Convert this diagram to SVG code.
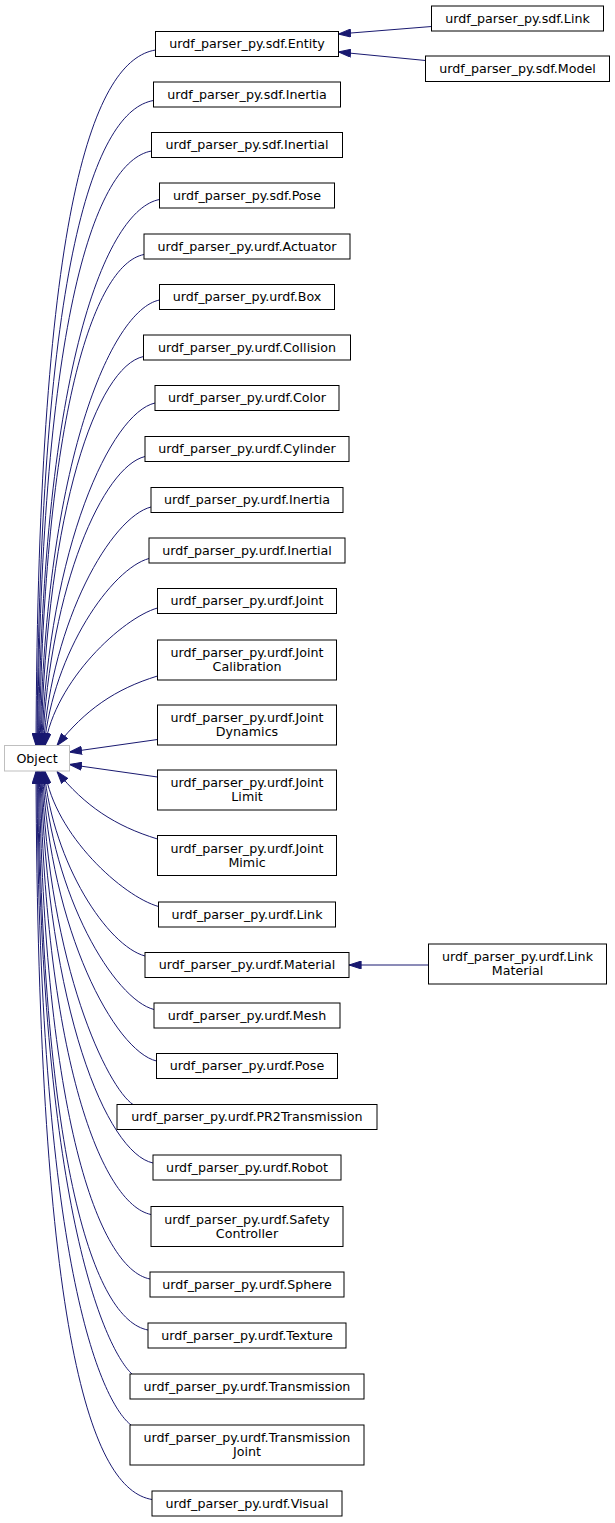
<svg xmlns="http://www.w3.org/2000/svg" width="615" height="1523" viewBox="0 0 615 1523">
<style>
.n rect{fill:#fff;stroke:#000;stroke-width:1}
.o rect{fill:#fff;stroke:#bfbfbf;stroke-width:1}
text{font-family:"DejaVu Sans","Liberation Sans",sans-serif;font-size:12.67px;fill:#000;text-anchor:middle}
.e path{fill:none;stroke:#191970;stroke-width:1;marker-end:url(#arr)}
</style>
<defs>
<marker id="arr" viewBox="0 0 12.6 8.8" refX="12.6" refY="4.4" markerWidth="12.6" markerHeight="8.8" orient="auto" markerUnits="userSpaceOnUse">
<path d="M0.5,0.5 L12.6,4.4 L0.5,8.3 z" fill="#191970" stroke="#191970" stroke-width="1"/>
</marker>
</defs>
<rect width="615" height="1523" fill="#fff"/>
<g id="edges" class="e">
<path d="M155.5,50 C95.5,60 38,198 36,745.5"/>
<path d="M153.5,100.5 C95.8,110.5 39.7,257.3 37,745.5"/>
<path d="M151.5,151 C96,161 41,313 37.6,745.5"/>
<path d="M159.5,199.5 C106.3,209.5 42.6,366 38.4,745.5"/>
<path d="M144,254.5 C93.1,264.5 44.2,416 39.3,745.5"/>
<path d="M159.5,300 C110.8,310 45.7,463 40.1,745.5"/>
<path d="M143.5,356.5 C97.1,366.5 47.3,507 40.9,745.5"/>
<path d="M155,403 C110.9,413 48.8,547.5 41.7,745.5"/>
<path d="M145,456.5 C103.2,466.5 50.3,585 42.5,745.5"/>
<path d="M151,507 C111.4,517 51.9,620 43.4,745.5"/>
<path d="M149,558.5 C111.7,568.5 53.5,652 44.2,745.5"/>
<path d="M157.5,608 C122.5,618 55,680.5 45,745.5"/>
<path d="M157.5,676 C115,689 85,710 57,745.5"/>
<path d="M157.5,739.5 L69.5,752"/>
<path d="M157.5,777 L69.5,764.5"/>
<path d="M157.5,839 C115,826 85,806 57,771.5"/>
<path d="M158.5,906.5 C123,896.5 55,835.5 45,771.5"/>
<path d="M145,956 C107.8,946 53.5,864.5 44.2,771.5"/>
<path d="M154,1009.5 C114.5,999.5 51.9,896 43.4,771.5"/>
<path d="M156.5,1061 C114.7,1051 50.3,930.5 42.5,771.5"/>
<path d="M133,1104.5 C108,1088 48.8,968.5 41.7,771.5"/>
<path d="M153,1163 C106.7,1153 47.3,1009 40.9,771.5"/>
<path d="M151,1214.5 C102,1204.5 45.6,1060 40.1,771.5"/>
<path d="M150,1279 C98.4,1269 43.7,1115 39.3,771.5"/>
<path d="M148,1330 C94.1,1320 42.2,1166 38.4,771.5"/>
<path d="M132,1374 C108,1352 40.6,1220.7 37.6,771.5"/>
<path d="M131,1425 C105,1405 38.9,1283.4 37,771.5"/>
<path d="M152,1499.5 C92,1489.5 38,1342 36,771.5"/>
<path d="M431.5,26.5 L338.5,34"/>
<path d="M425.5,60.5 L338.5,52"/>
<path d="M428.5,965 L349,965"/>
</g>
<g id="object" class="o"><rect x="4.5" y="745.5" width="65" height="25.5"/><text x="37" y="762.5">Object</text></g>
<g id="sdf_link" class="n"><rect x="431.5" y="6" width="172" height="25"/><text x="517.5" y="22.5">urdf_parser_py.sdf.Link</text></g>
<g id="sdf_model" class="n"><rect x="425.5" y="56" width="184" height="25.5"/><text x="517.5" y="72.8">urdf_parser_py.sdf.Model</text></g>
<g id="link_material" class="n"><rect x="428.5" y="944" width="178" height="40"/><text x="517.5" y="961">urdf_parser_py.urdf.Link</text><text x="517.5" y="975">Material</text></g>
<g id="sdf_entity" class="n"><rect x="155.5" y="31.5" width="183" height="25"/><text x="247" y="48">urdf_parser_py.sdf.Entity</text></g>
<g id="sdf_inertia" class="n"><rect x="153.5" y="82" width="187" height="25"/><text x="247" y="98.5">urdf_parser_py.sdf.Inertia</text></g>
<g id="sdf_inertial" class="n"><rect x="151.5" y="132.5" width="191" height="25"/><text x="247" y="149">urdf_parser_py.sdf.Inertial</text></g>
<g id="sdf_pose" class="n"><rect x="159.5" y="183" width="175" height="25"/><text x="247" y="199.5">urdf_parser_py.sdf.Pose</text></g>
<g id="urdf_actuator" class="n"><rect x="144" y="234" width="206" height="25"/><text x="247" y="250.5">urdf_parser_py.urdf.Actuator</text></g>
<g id="urdf_box" class="n"><rect x="159.5" y="284.5" width="175" height="25"/><text x="247" y="301">urdf_parser_py.urdf.Box</text></g>
<g id="urdf_collision" class="n"><rect x="143.5" y="335" width="207" height="25"/><text x="247" y="351.5">urdf_parser_py.urdf.Collision</text></g>
<g id="urdf_color" class="n"><rect x="155" y="385.5" width="184" height="25"/><text x="247" y="402">urdf_parser_py.urdf.Color</text></g>
<g id="urdf_cylinder" class="n"><rect x="145" y="436.5" width="204" height="25"/><text x="247" y="453">urdf_parser_py.urdf.Cylinder</text></g>
<g id="urdf_inertia" class="n"><rect x="151" y="487.5" width="192" height="25"/><text x="247" y="504">urdf_parser_py.urdf.Inertia</text></g>
<g id="urdf_inertial" class="n"><rect x="149" y="538" width="196" height="25"/><text x="247" y="554.5">urdf_parser_py.urdf.Inertial</text></g>
<g id="urdf_joint" class="n"><rect x="157.5" y="588.5" width="179" height="25"/><text x="247" y="605">urdf_parser_py.urdf.Joint</text></g>
<g id="joint_calibration" class="n"><rect x="157.5" y="640" width="179" height="40"/><text x="247" y="657">urdf_parser_py.urdf.Joint</text><text x="247" y="671">Calibration</text></g>
<g id="joint_dynamics" class="n"><rect x="157.5" y="705" width="179" height="40"/><text x="247" y="722">urdf_parser_py.urdf.Joint</text><text x="247" y="736">Dynamics</text></g>
<g id="joint_limit" class="n"><rect x="157.5" y="770" width="179" height="40"/><text x="247" y="787">urdf_parser_py.urdf.Joint</text><text x="247" y="801">Limit</text></g>
<g id="joint_mimic" class="n"><rect x="157.5" y="835.5" width="179" height="40"/><text x="247" y="852.5">urdf_parser_py.urdf.Joint</text><text x="247" y="866.5">Mimic</text></g>
<g id="urdf_link" class="n"><rect x="158.5" y="902" width="177" height="25"/><text x="247" y="918.5">urdf_parser_py.urdf.Link</text></g>
<g id="urdf_material" class="n"><rect x="145" y="952.5" width="204" height="25"/><text x="247" y="969">urdf_parser_py.urdf.Material</text></g>
<g id="urdf_mesh" class="n"><rect x="154" y="1003" width="186" height="25"/><text x="247" y="1019.5">urdf_parser_py.urdf.Mesh</text></g>
<g id="urdf_pose" class="n"><rect x="156.5" y="1053.5" width="181" height="25"/><text x="247" y="1070">urdf_parser_py.urdf.Pose</text></g>
<g id="urdf_pr2transmission" class="n"><rect x="117" y="1104.5" width="260" height="25"/><text x="247" y="1121">urdf_parser_py.urdf.PR2Transmission</text></g>
<g id="urdf_robot" class="n"><rect x="153" y="1155" width="188" height="25"/><text x="247" y="1171.5">urdf_parser_py.urdf.Robot</text></g>
<g id="safety_controller" class="n"><rect x="151" y="1206.5" width="192" height="40"/><text x="247" y="1223.5">urdf_parser_py.urdf.Safety</text><text x="247" y="1237.5">Controller</text></g>
<g id="urdf_sphere" class="n"><rect x="150" y="1272" width="194" height="25"/><text x="247" y="1288.5">urdf_parser_py.urdf.Sphere</text></g>
<g id="urdf_texture" class="n"><rect x="148" y="1323" width="198" height="25"/><text x="247" y="1339.5">urdf_parser_py.urdf.Texture</text></g>
<g id="urdf_transmission" class="n"><rect x="130" y="1374" width="234" height="25"/><text x="247" y="1390.5">urdf_parser_py.urdf.Transmission</text></g>
<g id="transmission_joint" class="n"><rect x="130" y="1425" width="234" height="40"/><text x="247" y="1442">urdf_parser_py.urdf.Transmission</text><text x="247" y="1456">Joint</text></g>
<g id="urdf_visual" class="n"><rect x="152" y="1491" width="190" height="25"/><text x="247" y="1507.5">urdf_parser_py.urdf.Visual</text></g>
</svg>
